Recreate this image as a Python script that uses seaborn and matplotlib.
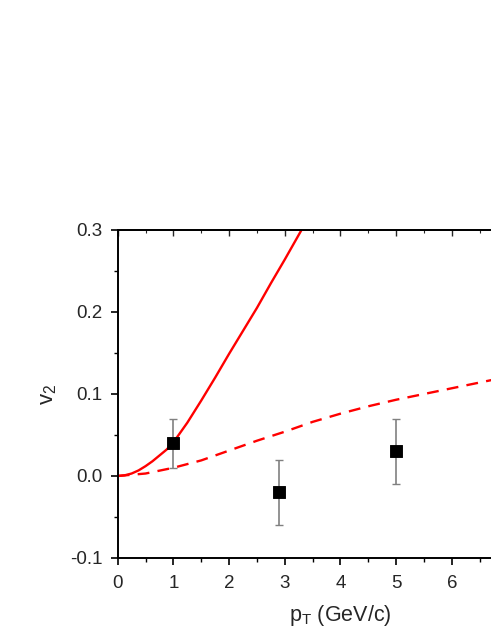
import numpy as np
import pandas as pd
import seaborn as sns
from matplotlib import pyplot as plt
from matplotlib.ticker import MultipleLocator

# ===================================================================
# values
# ===================================================================
pt_solid = [0.0, 0.125, 0.25, 0.375, 0.5, 0.625, 0.75, 0.875, 1.0, 1.25, 1.5, 1.75, 2.0, 2.25, 2.5, 2.75, 3.0, 3.25, 3.4]
v2_solid = [0.0, 0.0008, 0.003, 0.0068, 0.012, 0.018, 0.025, 0.032, 0.041, 0.065, 0.092, 0.120, 0.149, 0.177, 0.205, 0.235, 0.264, 0.294, 0.312]

pt_dash = [0.0, 0.5, 1.0, 1.5, 2.0, 2.5, 3.0, 3.5, 4.0, 4.5, 5.0, 5.5, 6.0, 6.5, 7.0, 7.5, 8.0]
v2_dash = [0.0, 0.003, 0.010, 0.019, 0.031, 0.043, 0.054, 0.066, 0.076, 0.085, 0.093, 0.100, 0.107, 0.114, 0.121, 0.127, 0.133]

pt_data = [1.0, 2.9, 5.0]
v2_data = [0.04, -0.02, 0.03]
v2_err = [0.03, 0.04, 0.04]

x_ticks = [0, 1, 2, 3, 4, 5, 6]
y_ticks = [-0.1, 0.0, 0.1, 0.2, 0.3]
y_labels = ['-0.1', '0.0', '0.1', '0.2', '0.3']

sns.set_style("ticks")
plt.rcParams['font.family'] = ['Liberation Sans', 'DejaVu Sans']

fig = plt.figure(figsize=(4.91, 6.35), dpi=100)
ax = fig.add_axes([0.2397, 0.1213, 0.9075, 0.5165])

solid = pd.DataFrame({'pt': pt_solid, 'v2': v2_solid})
dash = pd.DataFrame({'pt': pt_dash, 'v2': v2_dash})
sns.lineplot(x='pt', y='v2', data=solid, color='red', linewidth=1.7, ax=ax)
sns.lineplot(x='pt', y='v2', data=dash, color='red', linewidth=1.7,
             linestyle=(0, (5, 3.5)), ax=ax)

ax.errorbar(pt_data, v2_data, yerr=v2_err, fmt='none', ecolor='grey',
            elinewidth=1.2, capsize=3, capthick=1.0, zorder=3)
sns.scatterplot(x=pt_data, y=v2_data, marker='s', s=65, color='black',
                edgecolor='black', zorder=4, ax=ax)

ax.set_xlim(0, 8)
ax.set_ylim(-0.1, 0.3)
ax.set_xticks(x_ticks)
ax.xaxis.set_minor_locator(MultipleLocator(0.5))
ax.set_yticks(y_ticks)
ax.set_yticklabels(y_labels)
ax.yaxis.set_minor_locator(MultipleLocator(0.05))

ax.tick_params(which='major', direction='out', length=5, width=1.2, labelsize=13.5, color='black')
ax.tick_params(which='minor', direction='out', length=3, width=1.0, color='black')
ax.tick_params(axis='x', which='major', pad=7)
ax.tick_params(axis='y', which='major', pad=6)

# top axis: ticks pointing inwards, no labels
top = ax.secondary_xaxis('top')
top.set_xticks(x_ticks)
top.xaxis.set_minor_locator(MultipleLocator(0.5))
top.tick_params(which='major', direction='in', length=4, width=1.0, labeltop=False)
top.tick_params(which='minor', direction='in', length=2.5, width=0.8)
top.spines['top'].set_linewidth(1.4)

for s in ax.spines.values():
    s.set_linewidth(1.4)
    s.set_color('black')

ax.set_xlabel('p$_\\mathregular{T}$ (GeV/c)', fontsize=15.5, labelpad=8)
ax.set_ylabel('v$_\\mathregular{2}$', fontsize=16, labelpad=8)
ax.grid(False)

plt.savefig('out.png', dpi=100)
